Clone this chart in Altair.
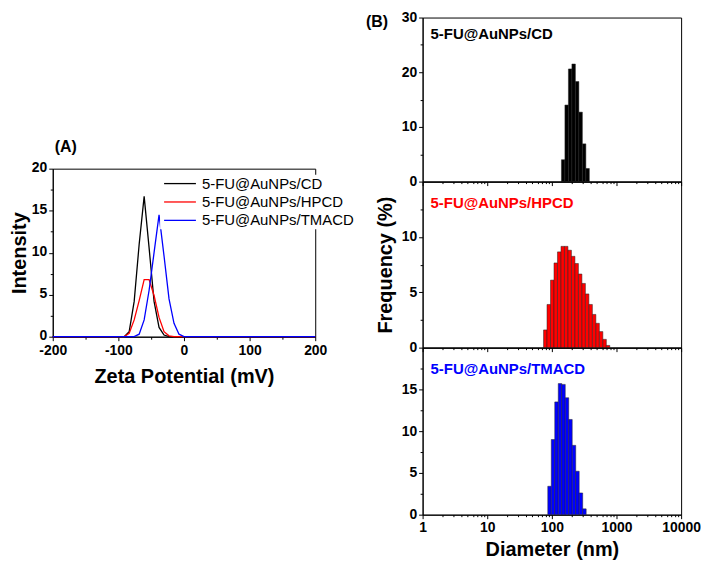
import altair as alt
import pandas as pd

# ---------------- data ----------------
SERIES = ["5-FU@AuNPs/CD", "5-FU@AuNPs/HPCD", "5-FU@AuNPs/TMACD"]
COLORS = ["#000000", "#ff0000", "#0000ff"]
PANEL_TAGS = ["(A)", "(B)"]

# Panel A: zeta potential distributions
cd_zeta = [-200, -91.1, -83.5, -75.9, -68.3, -60.7, -53.2, -45.6, -38.0, -30.4, -22.8, 200]
cd_int = [0, 0, 0.6, 4.2, 11.0, 16.7, 10.6, 4.2, 1.1, 0.2, 0, 0]
hpcd_zeta = [-200, -91.1, -83.5, -75.9, -68.3, -60.7, -53.2, -45.6, -38.0, -30.4, -22.8, -15.2, 200]
hpcd_int = [0, 0, 0.4, 2.0, 4.3, 6.8, 6.8, 4.9, 2.3, 0.6, 0.1, 0, 0]
tmacd_zeta = [-200, -75.9, -68.3, -60.7, -53.2, -45.6, -38.0, -30.4, -22.8, -15.2, -7.6, 0, 200]
tmacd_int = [0, 0, 0.3, 2.0, 5.5, 10.0, 14.5, 9.6, 4.5, 1.6, 0.3, 0, 0]

# Panel B: size distributions (bin centre diameter in nm, frequency in %)
cd_diam = [149.6, 169.4, 191.9, 217.3, 246.0, 278.6, 315.5, 357.3]
cd_freq = [4.0, 14.0, 20.6, 21.5, 18.3, 12.7, 6.9, 2.4]
hpcd_diam = [79.1, 89.5, 101.4, 114.8, 130.0, 147.2, 166.7, 188.8, 213.8, 242.1,
             274.2, 310.5, 351.6, 398.1, 450.8, 510.5, 578.1, 654.6, 741.3]
hpcd_freq = [1.6, 3.9, 6.1, 7.65, 8.65, 9.15, 9.15, 8.8, 8.25, 7.6,
             6.65, 5.8, 4.85, 3.9, 3.0, 2.2, 1.45, 0.75, 0.2]
tmacd_diam = [92.0, 104.2, 118.0, 133.7, 151.4, 171.4, 194.1, 219.8, 248.9, 281.8, 319.2]
tmacd_freq = [3.4, 9.0, 13.5, 15.7, 15.6, 14.0, 11.4, 8.3, 5.2, 2.6, 0.7]

# ---------------- style ----------------
FONT = "Liberation Sans"
HALF_BIN = 1.064  # half bin width as a ratio on the log axis
color_scale = alt.Scale(domain=SERIES, range=COLORS)

# ---------------- panel A ----------------
rows = []
for name, xs, ys in [(SERIES[0], cd_zeta, cd_int), (SERIES[1], hpcd_zeta, hpcd_int),
                     (SERIES[2], tmacd_zeta, tmacd_int)]:
    for x, y in zip(xs, ys):
        rows.append({"series": name, "zeta": x, "intensity": y})
dfA = pd.DataFrame(rows)

xA = alt.Scale(domain=[-200, 200], nice=False)
yA = alt.Scale(domain=[0, 20], nice=False)

linesA = alt.Chart(dfA).mark_line(strokeWidth=1.3).encode(
    x=alt.X("zeta:Q", scale=xA, axis=alt.Axis(values=[-200, -100, 0, 100, 200], orient="bottom",
                                               title="Zeta Potential (mV)", labelFlush=False,
                                               labelOverlap=False, titlePadding=9, labelPadding=3,
                                               labelExpr="toString(datum.value)")),
    y=alt.Y("intensity:Q", scale=yA, axis=alt.Axis(values=[0, 5, 10, 15, 20], orient="left",
                                                    title="Intensity", titlePadding=2, labelOffset=-1)),
    color=alt.Color("series:N", scale=color_scale, legend=None),
)
minorA = alt.Chart(dfA).mark_point(opacity=0).encode(
    x=alt.X("zeta:Q", scale=xA, axis=alt.Axis(values=[-150, -50, 50, 150], orient="bottom",
                                               labels=False, domain=False, tickSize=2.5, title=None)),
    y=alt.Y("intensity:Q", scale=yA, axis=alt.Axis(values=[2.5, 7.5, 12.5, 17.5], orient="left",
                                                    labels=False, domain=False, tickSize=2.5, title=None)),
)
legend_df = pd.DataFrame({"series": SERIES})
leg_y = alt.Y("series:N", scale=alt.Scale(type="point", domain=SERIES, range=[15, 52], padding=0), axis=None)
leg_bg = alt.Chart(legend_df.head(1)).mark_rect(fill="white").encode(
    x=alt.value(108), x2=alt.value(284), y=alt.value(6), y2=alt.value(61))
leg_lines = alt.Chart(legend_df).mark_rule(strokeWidth=1.3).encode(
    x=alt.value(112), x2=alt.value(144), y=leg_y,
    color=alt.Color("series:N", scale=color_scale, legend=None))
leg_text = alt.Chart(legend_df).mark_text(align="left", baseline="middle", fontSize=15,
                                          font=FONT, color="black").encode(
    x=alt.value(150), y=leg_y, text="series:N")
tagA = alt.Chart(pd.DataFrame({"t": [PANEL_TAGS[0]]})).mark_text(
    align="left", baseline="middle", fontSize=16, fontWeight="bold", font=FONT, color="black").encode(
    x=alt.value(2), y=alt.value(-22), text="t:N")

panelA = alt.layer(linesA, minorA, leg_bg, leg_lines, leg_text, tagA).resolve_scale(
    y="independent").resolve_axis(x="independent", y="independent").properties(width=264, height=169)

spacer = alt.Chart(pd.DataFrame({"t": [""]})).mark_text(opacity=0).encode(
    x=alt.value(0), y=alt.value(0), text="t:N").properties(
    width=264, height=152, view=alt.ViewBackground(stroke=None))

left = alt.vconcat(spacer, panelA, spacing=0, bounds="flush")

# ---------------- panel B ----------------
xB = alt.Scale(type="log", domain=[1, 10000], nice=False)
major_log = [1, 10, 100, 1000, 10000]
minor_log = [m * d for d in [1, 10, 100, 1000] for m in range(2, 10)]


def b_panel(name, color, diam, freq, ydomain, yvals, yminor, height, bottom, ytitle, label_y, tag=None):
    df = pd.DataFrame({"d": diam, "f": freq})
    df["lo"] = df["d"] / HALF_BIN
    df["hi"] = df["d"] * HALF_BIN
    ys = alt.Scale(domain=ydomain, nice=False)
    xaxis = alt.Axis(values=major_log, format="d", orient="bottom", labels=bottom, labelFlush=False,
                     labelOverlap=False, tickSize=4, title="Diameter (nm)" if bottom else None,
                     titlePadding=5)
    yaxis = alt.Axis(values=yvals, orient="left", title=ytitle, titlePadding=6) if ytitle else \
        alt.Axis(values=yvals, orient="left", title=None)
    bars = alt.Chart(df).mark_rect(color=color, stroke="#222222", strokeWidth=0.5).encode(
        x=alt.X("lo:Q", scale=xB, axis=xaxis),
        x2="hi:Q",
        y=alt.Y("f:Q", scale=ys, axis=yaxis),
        y2=alt.datum(0),
    )
    minor = alt.Chart(df).mark_point(opacity=0).encode(
        x=alt.X("d:Q", scale=xB, axis=alt.Axis(values=minor_log, orient="bottom", labels=False,
                                                domain=False, tickSize=2, title=None)),
        y=alt.Y("f:Q", scale=ys, axis=alt.Axis(values=yminor, orient="left", labels=False,
                                                domain=False, tickSize=2.5, title=None)),
    )
    label = alt.Chart(pd.DataFrame({"t": [name]})).mark_text(
        align="left", baseline="middle", fontSize=15, fontWeight="bold", font=FONT, color=color).encode(
        x=alt.value(8), y=alt.value(label_y), text="t:N")
    layers = [bars, minor, label]
    if tag:
        layers.append(alt.Chart(pd.DataFrame({"t": [tag]})).mark_text(
            align="left", baseline="middle", fontSize=16, fontWeight="bold", font=FONT, color="black").encode(
            x=alt.value(-57), y=alt.value(5), text="t:N"))
    return alt.layer(*layers).resolve_axis(x="independent", y="independent").properties(
        width=260, height=height)


b1 = b_panel(SERIES[0], "#000000", cd_diam, cd_freq, [0, 30], [0, 10, 20, 30], [5, 15, 25],
             165, False, None, 17, tag=PANEL_TAGS[1])
b2 = b_panel(SERIES[1], "#ff0000", hpcd_diam, hpcd_freq, [0, 15], [0, 5, 10], [2.5, 7.5, 12.5],
             167, False, "Frequency (%)", 22)
b3 = b_panel(SERIES[2], "#0000ff", tmacd_diam, tmacd_freq, [0, 20], [0, 5, 10, 15],
             [2.5, 7.5, 12.5, 17.5], 168, True, None, 22)

right = alt.vconcat(b1, b2, b3, spacing=0, bounds="flush")

chart = alt.hconcat(left, right, spacing=10).properties(padding=0).configure(
    font=FONT).configure_axis(
    labelFont=FONT, labelFontWeight="bold", labelFontSize=14, labelColor="black", labelPadding=2,
    titleFont=FONT, titleFontWeight="bold", titleFontSize=20, titleColor="black",
    domainColor="black", tickColor="black", grid=False, tickSize=4, domainWidth=1, tickWidth=1,
).configure_view(stroke="black", strokeWidth=1)

chart.save("out.html", embed_options={"renderer": "svg", "actions": False})
